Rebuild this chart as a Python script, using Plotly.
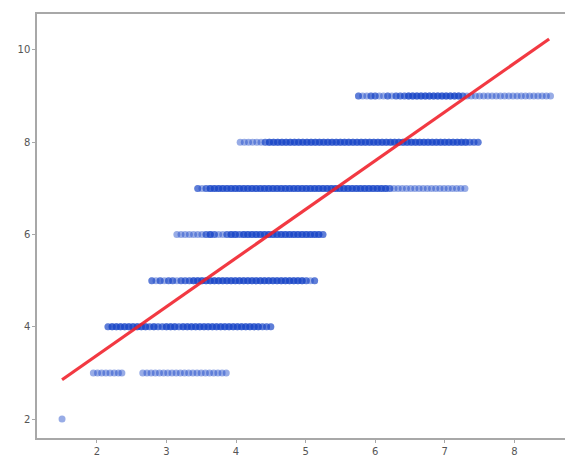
import plotly.graph_objects as go

# ---- data (x value, multiplicity) per integer y level ----
x_y2 = [1.50]
n_y2 = [1]

x_y3 = [1.95, 2.01, 2.07, 2.13, 2.19, 2.25, 2.31, 2.36,
        2.66, 2.72, 2.78, 2.84, 2.90, 2.96, 3.02, 3.08, 3.14, 3.20, 3.26, 3.32,
        3.38, 3.44, 3.50, 3.56, 3.62, 3.68, 3.74, 3.80, 3.86]
n_y3 = [1] * 29

x_y4 = [2.16, 2.22, 2.28, 2.34, 2.40, 2.46, 2.52, 2.58, 2.64, 2.70, 2.76, 2.82,
        2.88, 2.94, 3.00, 3.06, 3.12, 3.18, 3.24, 3.30, 3.36, 3.42, 3.48, 3.54,
        3.60, 3.66, 3.72, 3.78, 3.84, 3.90, 3.96, 4.02, 4.08, 4.14, 4.20, 4.26,
        4.32, 4.38, 4.44, 4.50]
n_y4 = [2, 3, 3, 3, 3, 3, 3, 3, 3, 3, 2, 3,
        2, 2, 3, 3, 3, 2, 3, 3, 3, 3, 3, 3,
        3, 3, 3, 3, 3, 3, 3, 3, 3, 3, 3, 3,
        3, 2, 2, 2]

x_y5 = [2.79, 2.85, 2.91, 2.97, 3.03, 3.09, 3.15, 3.21, 3.27, 3.33, 3.39, 3.45,
        3.51, 3.57, 3.63, 3.69, 3.75, 3.81, 3.87, 3.93, 3.99, 4.05, 4.11, 4.17,
        4.23, 4.29, 4.35, 4.41, 4.47, 4.53, 4.59, 4.65, 4.71, 4.77, 4.83, 4.89,
        4.95, 5.01, 5.07, 5.13]
n_y5 = [2, 1, 2, 1, 2, 2, 1, 2, 2, 2, 3, 3,
        3, 3, 3, 3, 3, 3, 3, 3, 3, 3, 3, 3,
        3, 3, 3, 3, 3, 3, 3, 3, 3, 3, 3, 3,
        3, 2, 1, 2]

x_y6 = [3.15, 3.21, 3.27, 3.33, 3.39, 3.45, 3.51, 3.57, 3.63, 3.69, 3.75, 3.81,
        3.87, 3.93, 3.99, 4.05, 4.11, 4.17, 4.23, 4.29, 4.35, 4.41, 4.47, 4.53,
        4.59, 4.65, 4.71, 4.77, 4.83, 4.89, 4.95, 5.01, 5.07, 5.13, 5.19, 5.25]
n_y6 = [1, 1, 1, 1, 1, 1, 1, 2, 3, 2, 1, 1,
        2, 3, 3, 2, 3, 3, 3, 3, 3, 3, 3, 3,
        3, 3, 3, 3, 3, 3, 3, 3, 3, 3, 3, 2]

x_y7 = [3.45, 3.51, 3.57, 3.63, 3.69, 3.75, 3.81, 3.87, 3.93, 3.99, 4.05, 4.11,
        4.17, 4.23, 4.29, 4.35, 4.41, 4.47, 4.53, 4.59, 4.65, 4.71, 4.77, 4.83,
        4.89, 4.95, 5.01, 5.07, 5.13, 5.19, 5.25, 5.31, 5.37, 5.43, 5.49, 5.55,
        5.61, 5.67, 5.73, 5.79, 5.85, 5.91, 5.97, 6.03, 6.09, 6.15, 6.21, 6.27,
        6.33, 6.39, 6.45, 6.51, 6.57, 6.63, 6.69, 6.75, 6.81, 6.87, 6.93, 6.99,
        7.05, 7.11, 7.17, 7.23, 7.29]
n_y7 = [2, 1, 2] + [3] * 43 + [2] + [1] * 18

x_y8 = [4.06, 4.12, 4.18, 4.24, 4.30, 4.36, 4.42, 4.48, 4.54, 4.60, 4.66, 4.72,
        4.78, 4.84, 4.90, 4.96, 5.02, 5.08, 5.14, 5.20, 5.26, 5.32, 5.38, 5.44,
        5.50, 5.56, 5.62, 5.68, 5.74, 5.80, 5.86, 5.92, 5.98, 6.04, 6.10, 6.16,
        6.22, 6.28, 6.34, 6.40, 6.46, 6.52, 6.58, 6.64, 6.70, 6.76, 6.82, 6.88,
        6.94, 7.00, 7.06, 7.12, 7.18, 7.24, 7.30, 7.36, 7.42, 7.48]
n_y8 = [1] * 6 + [2] + [3] * 48 + [2, 2, 2]

x_y9 = [5.76, 5.82, 5.88, 5.94, 6.00, 6.06, 6.12, 6.18, 6.24, 6.30, 6.36, 6.42,
        6.48, 6.54, 6.60, 6.66, 6.72, 6.78, 6.84, 6.90, 6.96, 7.02, 7.08, 7.14,
        7.20, 7.26, 7.32, 7.38, 7.44, 7.50, 7.56, 7.62, 7.68, 7.74, 7.80, 7.86,
        7.92, 7.98, 8.04, 8.10, 8.16, 8.22, 8.28, 8.34, 8.40, 8.46, 8.52]
n_y9 = [2, 1, 1, 2, 2, 1, 1, 2, 1, 2, 2, 2] + [3] * 13 + [2] + [1] * 21

levels = [2, 3, 4, 5, 6, 7, 8, 9]
level_x = [x_y2, x_y3, x_y4, x_y5, x_y6, x_y7, x_y8, x_y9]
level_n = [n_y2, n_y3, n_y4, n_y5, n_y6, n_y7, n_y8, n_y9]

# fitted regression line
fit_slope = 1.055
fit_intercept = 1.27
fit_x = [1.5, 8.5]

x_ticks = [2, 3, 4, 5, 6, 7, 8]
y_ticks = [2, 4, 6, 8, 10]

# ---- build ----
xs, ys = [], []
for lvl, xl, nl in zip(levels, level_x, level_n):
    for xv, c in zip(xl, nl):
        for _ in range(c):
            xs.append(xv)
            ys.append(lvl)

fit_y = [fit_intercept + fit_slope * v for v in fit_x]

fig = go.Figure()
fig.add_trace(go.Scatter(
    x=xs, y=ys, mode="markers",
    marker=dict(size=7, color="#1a48c8", opacity=0.45, line=dict(width=0)),
    showlegend=False, hoverinfo="skip"))
fig.add_trace(go.Scatter(
    x=fit_x, y=fit_y, mode="lines",
    line=dict(color="rgba(240,30,40,0.88)", width=3.2),
    showlegend=False))

axis_common = dict(
    showgrid=False, zeroline=False, showline=True, mirror=True,
    linecolor="#a8a8a8", linewidth=1.5, automargin=False,
    ticks="outside", ticklen=3, tickcolor="#a8a8a8", tickwidth=1,
    tickfont=dict(family="DejaVu Sans", size=10, color="#555555"),
)
fig.update_xaxes(range=[1.14, 8.8], tickvals=x_ticks, **axis_common)
fig.update_yaxes(range=[1.59, 10.78], tickvals=y_ticks, **axis_common)

# page body adds an 8 px offset, so the figure is sized to fit the window
fig.update_layout(
    width=565, height=450,
    margin=dict(l=29, r=3, t=6, b=20),
    plot_bgcolor="white", paper_bgcolor="white",
)

fig.write_html("out.html")
